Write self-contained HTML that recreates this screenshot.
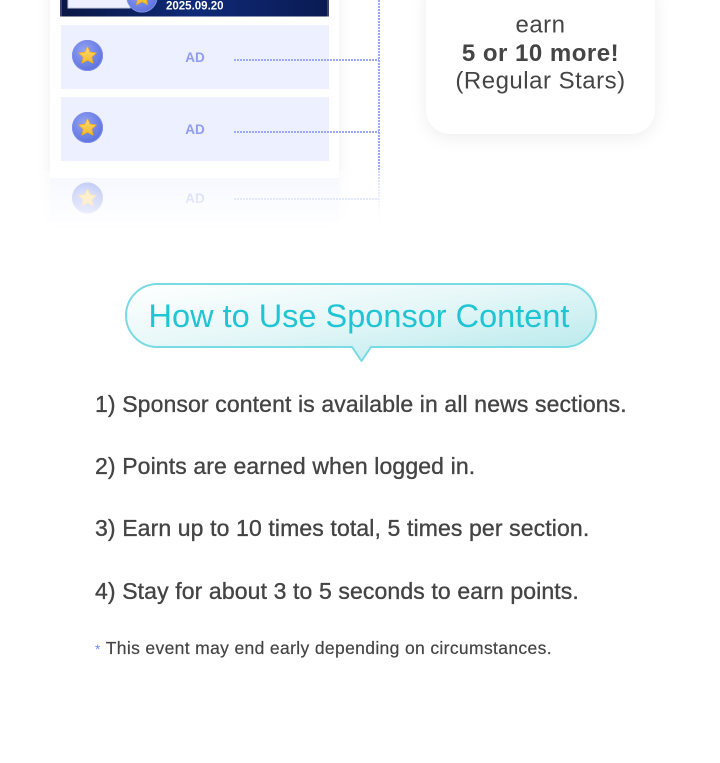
<!DOCTYPE html>
<html>
<head>
<meta charset="utf-8">
<style>
  html, body { margin:0; padding:0; background:#ffffff; }
  body { width:720px; height:763px; position:relative; overflow:hidden;
         font-family:"Liberation Sans", Arial, sans-serif; }
  .card { position:absolute; left:50px; top:-30px; width:289px; height:255px; background:#fff;
          box-shadow:0 0 14px rgba(0,0,0,0.07); }
  .rcard { position:absolute; left:426px; top:-30px; width:229px; height:164px; background:#fff;
           border-radius:24px; box-shadow:0 4px 18px rgba(0,0,0,0.07); }
  svg.main { position:absolute; left:0; top:0; }
</style>
</head>
<body>
<div class="card"></div>
<div class="rcard"></div>

<svg class="main" width="720" height="763" viewBox="0 0 720 763" xmlns="http://www.w3.org/2000/svg">
  <defs>
    <linearGradient id="navy" x1="0" y1="0" x2="1" y2="0">
      <stop offset="0" stop-color="#0a1744"/>
      <stop offset="0.5" stop-color="#0f2a78"/>
      <stop offset="1" stop-color="#0a1a52"/>
    </linearGradient>
    <radialGradient id="coin" cx="0.4" cy="0.35" r="0.7">
      <stop offset="0" stop-color="#93a3f5"/>
      <stop offset="1" stop-color="#5a6fdc"/>
    </radialGradient>
    <linearGradient id="star" x1="0" y1="0" x2="0" y2="1">
      <stop offset="0" stop-color="#ffe070"/>
      <stop offset="1" stop-color="#f7b52c"/>
    </linearGradient>
    <linearGradient id="vfade" gradientUnits="userSpaceOnUse" x1="0" y1="0" x2="0" y2="235">
      <stop offset="0.7" stop-color="#9aa8f6" stop-opacity="1"/>
      <stop offset="1" stop-color="#9aa8f6" stop-opacity="0"/>
    </linearGradient>
    <linearGradient id="wfade" x1="0" y1="0" x2="0" y2="1">
      <stop offset="0" stop-color="#ffffff" stop-opacity="0.45"/>
      <stop offset="0.55" stop-color="#ffffff" stop-opacity="0.85"/>
      <stop offset="1" stop-color="#ffffff" stop-opacity="1"/>
    </linearGradient>
    <linearGradient id="bub" x1="0" y1="0" x2="1" y2="1">
      <stop offset="0" stop-color="#ffffff"/>
      <stop offset="0.45" stop-color="#e6f7f8"/>
      <stop offset="1" stop-color="#b3e8eb"/>
    </linearGradient>
    <g id="coinicon">
      <circle cx="0" cy="0" r="15.5" fill="url(#coin)"/>
      <circle cx="0" cy="0" r="15" fill="none" stroke="#7d8fe8" stroke-width="1"/>
      <path d="M0,-9 L2.7,-3.3 L8.8,-2.6 L4.3,1.6 L5.5,7.7 L0,4.7 L-5.5,7.7 L-4.3,1.6 L-8.8,-2.6 L-2.7,-3.3 Z"
            fill="url(#star)" stroke="#f0a82a" stroke-width="0.8" stroke-linejoin="round"/>
    </g>
  </defs>

  <!-- top banner -->
  <rect x="60" y="-5" width="269" height="21.5" fill="url(#navy)"/>
  <rect x="60" y="-5" width="2" height="21.5" fill="#3b4466"/>
  <rect x="327" y="-5" width="2" height="21.5" fill="#3b4466"/>
  <rect x="68" y="-5" width="62" height="13" fill="#eef0ff" stroke="#c9cde0" stroke-width="1"/>
  <use href="#coinicon" x="142" y="-3"/>
  <text x="166" y="9.5" font-family="Liberation Sans, Arial, sans-serif" font-size="11.5" font-weight="bold" fill="#ffffff">2025.09.20</text>

  <!-- AD rows -->
  <rect x="61" y="25" width="268" height="64" fill="#edf0ff"/>
  <rect x="61" y="97" width="268" height="64" fill="#edf0ff"/>
  <rect x="50" y="178" width="289" height="44" fill="#eef1ff"/>

  <use href="#coinicon" x="87.5" y="55.5"/>
  <use href="#coinicon" x="87.5" y="127.5"/>
  <use href="#coinicon" x="87.5" y="198"/>

  <text x="195" y="62" text-anchor="middle" font-family="Liberation Sans, Arial, sans-serif" font-size="13.5" font-weight="bold" fill="#8e9cf2">AD</text>
  <text x="195" y="134" text-anchor="middle" font-family="Liberation Sans, Arial, sans-serif" font-size="13.5" font-weight="bold" fill="#8e9cf2">AD</text>
  <text x="195" y="203" text-anchor="middle" font-family="Liberation Sans, Arial, sans-serif" font-size="13.5" font-weight="bold" fill="#8e9cf2">AD</text>

  <!-- dotted connectors -->
  <line x1="234" y1="60" x2="379" y2="60" stroke="#9aa8f6" stroke-width="2" stroke-dasharray="2 1"/>
  <line x1="234" y1="132" x2="379" y2="132" stroke="#9aa8f6" stroke-width="2" stroke-dasharray="2 1"/>
  <line x1="234" y1="199" x2="379" y2="199" stroke="#9aa8f6" stroke-width="2" stroke-dasharray="2 1"/>
  <line x1="379" y1="0" x2="379" y2="235" stroke="url(#vfade)" stroke-width="2" stroke-dasharray="2 1"/>

  <!-- fade overlay -->
  <rect x="25" y="170" width="380" height="75" fill="url(#wfade)"/>

  <!-- right card text -->
  <g font-family="Liberation Sans, Arial, sans-serif" fill="#454545" text-anchor="middle" font-size="24" letter-spacing="0.5">
    <text x="540.5" y="32.5">earn</text>
    <text x="540.5" y="61" font-weight="bold">5 or 10 more!</text>
    <text x="540.5" y="88.5">(Regular Stars)</text>
  </g>

  <!-- speech bubble -->
  <path d="M157.5,284 H564.5 A31.5,31.5 0 0 1 564.5,347 H371 L361.5,361 L352,347 H157.5 A31.5,31.5 0 0 1 157.5,284 Z"
        fill="url(#bub)" stroke="#78dae3" stroke-width="2" stroke-linejoin="round"/>
  <text x="359" y="327" text-anchor="middle" font-family="Liberation Sans, Arial, sans-serif" font-size="32.5" fill="#20c4d3">How to Use Sponsor Content</text>

  <!-- list -->
  <g font-family="Liberation Sans, Arial, sans-serif" fill="#444444" stroke="#444444" stroke-width="0.35" font-size="23" letter-spacing="0.12">
    <text x="95" y="412">1) Sponsor content is available in all news sections.</text>
    <text x="95" y="474">2) Points are earned when logged in.</text>
    <text x="95" y="536">3) Earn up to 10 times total, 5 times per section.</text>
    <text x="95" y="599">4) Stay for about 3 to 5 seconds to earn points.</text>
  </g>
  <text x="95" y="654" font-family="Liberation Sans, Arial, sans-serif" font-size="17.5" letter-spacing="0.35" fill="#444444" stroke="#444444" stroke-width="0.2"><tspan fill="#7b8cf0" stroke="none" font-size="14">*</tspan> This event may end early depending on circumstances.</text>
</svg>
</body>
</html>
